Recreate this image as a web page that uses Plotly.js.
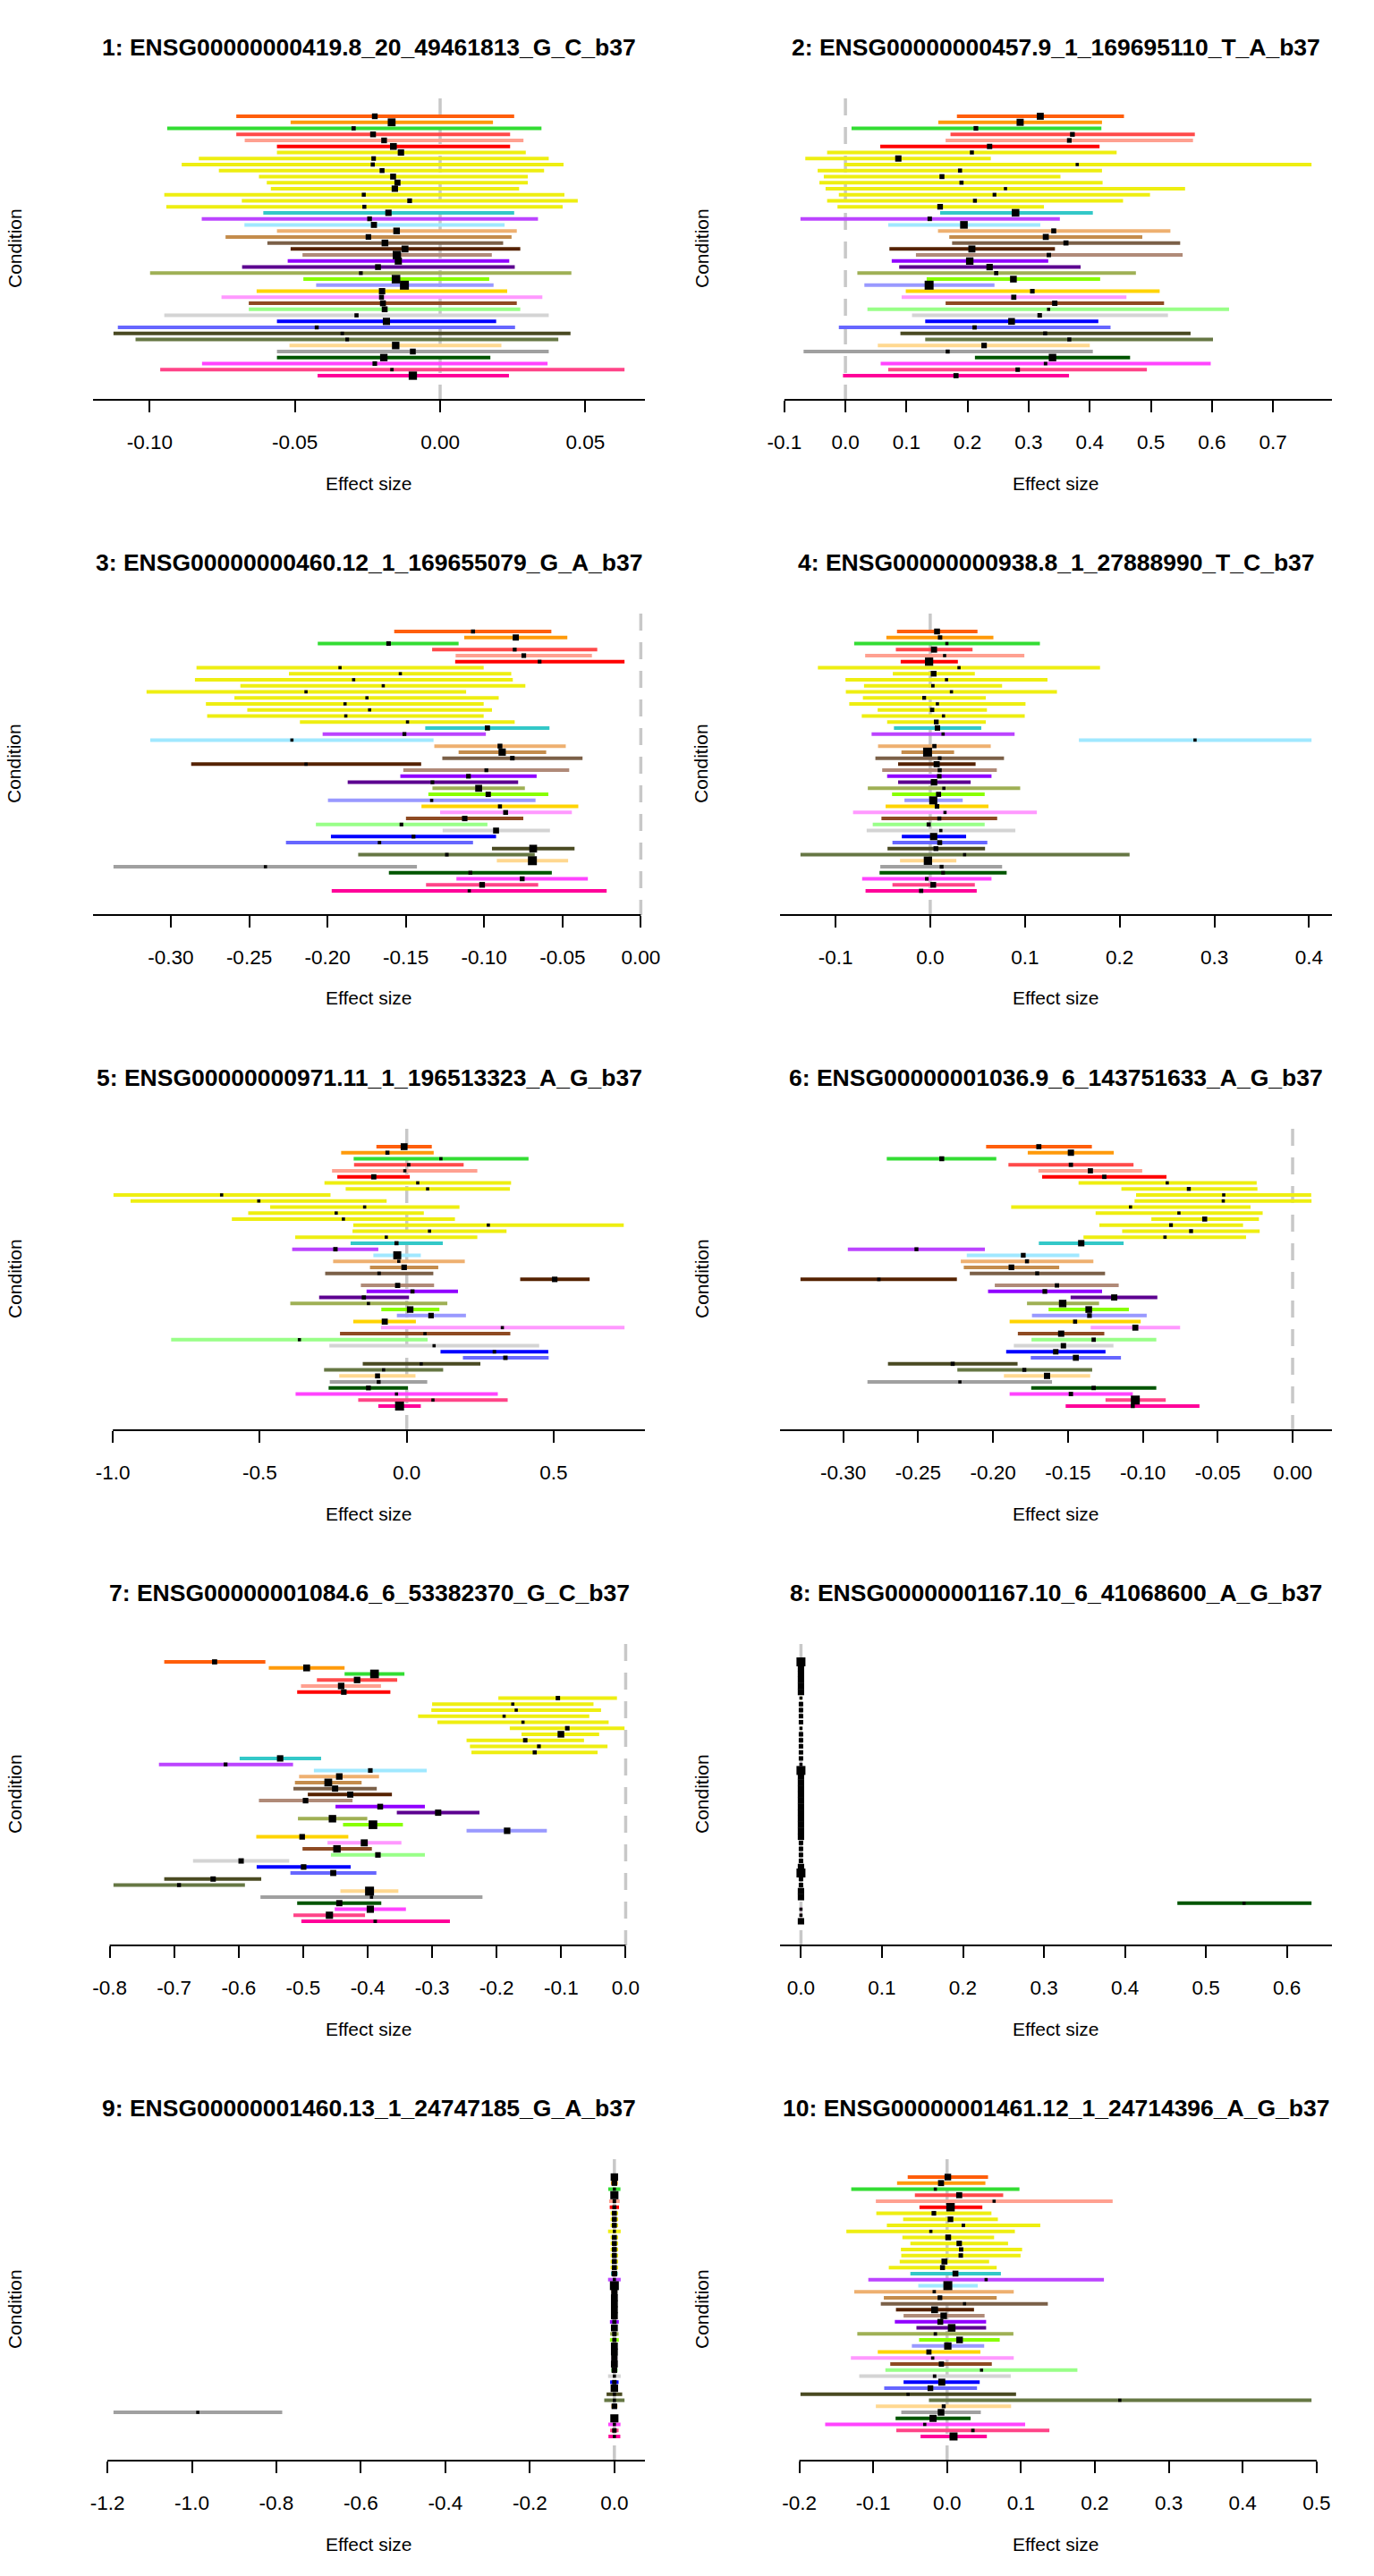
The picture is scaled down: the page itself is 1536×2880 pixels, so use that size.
<!DOCTYPE html>
<html><head><meta charset="utf-8">
<script src="https://cdn.plot.ly/plotly-3.0.1.min.js"></script>
<style>html,body{margin:0;padding:0;background:#fff}</style>
</head><body>
<div id="chart" style="width:1536px;height:2880px"></div>
<script>
// ---------------- DATA ----------------
const conditions = ["Adipose_Subcutaneous","Adipose_Visceral_Omentum","Adrenal_Gland","Artery_Aorta","Artery_Coronary","Artery_Tibial","Brain_Anterior_cingulate_cortex_BA24","Brain_Caudate_basal_ganglia","Brain_Cerebellar_Hemisphere","Brain_Cerebellum","Brain_Cortex","Brain_Frontal_Cortex_BA9","Brain_Hippocampus","Brain_Hypothalamus","Brain_Nucleus_accumbens_basal_ganglia","Brain_Putamen_basal_ganglia","Breast_Mammary_Tissue","Cells_EBV-transformed_lymphocytes","Cells_Transformed_fibroblasts","Colon_Sigmoid","Colon_Transverse","Esophagus_Gastroesophageal_Junction","Esophagus_Mucosa","Esophagus_Muscularis","Heart_Atrial_Appendage","Heart_Left_Ventricle","Liver","Lung","Muscle_Skeletal","Nerve_Tibial","Ovary","Pancreas","Pituitary","Prostate","Skin_Not_Sun_Exposed_Suprapubic","Skin_Sun_Exposed_Lower_leg","Small_Intestine_Terminal_Ileum","Spleen","Stomach","Testis","Thyroid","Uterus","Vagina","Whole_Blood"];

const panelTitles = ["1: ENSG00000000419.8_20_49461813_G_C_b37","2: ENSG00000000457.9_1_169695110_T_A_b37","3: ENSG00000000460.12_1_169655079_G_A_b37","4: ENSG00000000938.8_1_27888990_T_C_b37","5: ENSG00000000971.11_1_196513323_A_G_b37","6: ENSG00000001036.9_6_143751633_A_G_b37","7: ENSG00000001084.6_6_53382370_G_C_b37","8: ENSG00000001167.10_6_41068600_A_G_b37","9: ENSG00000001460.13_1_24747185_G_A_b37","10: ENSG00000001461.12_1_24714396_A_G_b37"];

const p1Lower = [-0.0702,-0.0515,-0.094,-0.0702,-0.0673,-0.0562,-0.0562,-0.0831,-0.089,-0.0762,-0.0624,-0.0597,-0.0583,-0.095,-0.0683,-0.0943,-0.0609,-0.0821,-0.0674,-0.0562,-0.0739,-0.0595,-0.0515,-0.0474,-0.0525,-0.0682,-0.0999,-0.0471,-0.0427,-0.0632,-0.0753,-0.0659,-0.0659,-0.095,-0.0562,-0.111,-0.1125,-0.1049,-0.0519,-0.0562,-0.0562,-0.082,-0.0964,-0.0422];
const p1Effect = [-0.0225,-0.0167,-0.0298,-0.0231,-0.0193,-0.0161,-0.0135,-0.0229,-0.0232,-0.020,-0.0162,-0.0147,-0.0156,-0.0263,-0.0105,-0.0261,-0.0178,-0.0243,-0.0228,-0.015,-0.0247,-0.019,-0.0121,-0.0149,-0.0144,-0.0214,-0.0273,-0.0152,-0.0123,-0.020,-0.0202,-0.0197,-0.0191,-0.0288,-0.0185,-0.0425,-0.0337,-0.032,-0.0153,-0.0094,-0.0194,-0.0225,-0.0166,-0.0094];
const p1Upper = [0.0255,0.0182,0.0349,0.0241,0.0287,0.0241,0.0295,0.0374,0.0425,0.0358,0.0302,0.0302,0.0272,0.0428,0.0474,0.0422,0.0255,0.0337,0.0222,0.0264,0.0246,0.0217,0.0276,0.0178,0.0238,0.0257,0.0452,0.0169,0.0184,0.0231,0.0352,0.0264,0.0276,0.0374,0.0193,0.0258,0.0449,0.0407,0.0211,0.0374,0.0173,0.037,0.0635,0.0237];

const p2Lower = [0.1825,0.152,0.010,0.172,0.164,0.057,-0.030,-0.0657,-0.002,-0.0455,-0.0354,-0.0426,-0.0325,-0.0108,-0.030,-0.013,0.155,-0.0736,0.070,0.1515,0.170,0.1746,0.072,0.1154,0.0758,0.088,0.0195,0.133,0.031,0.0988,0.092,0.164,0.036,0.109,0.1306,-0.0108,0.090,0.1306,0.053,-0.0685,0.212,0.0577,0.070,-0.004];
const p2Effect = [0.319,0.286,0.2136,0.3716,0.3665,0.236,0.207,0.0866,0.3795,0.1876,0.158,0.190,0.262,0.244,0.212,0.155,0.2785,0.138,0.194,0.341,0.328,0.361,0.207,0.333,0.2035,0.236,0.2468,0.275,0.137,0.306,0.2756,0.3427,0.3326,0.318,0.272,0.2114,0.327,0.3665,0.227,0.1674,0.339,0.3276,0.282,0.181];
const p2Upper = [0.456,0.420,0.419,0.572,0.569,0.416,0.444,0.238,0.763,0.420,0.352,0.421,0.556,0.4986,0.4545,0.325,0.405,0.351,0.319,0.532,0.486,0.548,0.343,0.552,0.332,0.385,0.4755,0.417,0.244,0.5144,0.460,0.5216,0.628,0.528,0.414,0.434,0.565,0.6017,0.400,0.405,0.466,0.598,0.4935,0.366];

const p3Lower = [-0.1574,-0.1127,-0.2062,-0.1332,-0.1182,-0.1185,-0.2836,-0.2246,-0.2846,-0.2556,-0.3155,-0.2594,-0.2776,-0.2512,-0.2768,-0.2176,-0.1376,-0.2031,-0.3131,-0.1318,-0.1163,-0.1267,-0.287,-0.1516,-0.1535,-0.1871,-0.133,-0.1356,-0.1997,-0.14,-0.1281,-0.1499,-0.2074,-0.1265,-0.1978,-0.2265,-0.095,-0.1804,-0.0919,-0.3366,-0.1608,-0.1177,-0.1371,-0.1973];
const p3Effect = [-0.1071,-0.0798,-0.161,-0.0805,-0.0747,-0.0646,-0.192,-0.1535,-0.1833,-0.1644,-0.2137,-0.1748,-0.1888,-0.1731,-0.1883,-0.1489,-0.0979,-0.1509,-0.2227,-0.0899,-0.0885,-0.082,-0.2137,-0.0986,-0.11,-0.133,-0.1035,-0.0974,-0.1335,-0.0899,-0.0863,-0.1124,-0.1528,-0.0924,-0.1451,-0.1668,-0.0687,-0.1238,-0.0692,-0.2396,-0.1088,-0.0757,-0.1013,-0.1095];
const p3Upper = [-0.0571,-0.0469,-0.1163,-0.0278,-0.0312,-0.0104,-0.1003,-0.0827,-0.0817,-0.0737,-0.1115,-0.0907,-0.1003,-0.095,-0.1003,-0.0805,-0.0583,-0.0989,-0.1323,-0.0479,-0.0604,-0.0372,-0.1402,-0.0457,-0.0665,-0.0783,-0.074,-0.059,-0.0672,-0.0399,-0.044,-0.075,-0.0979,-0.058,-0.0924,-0.1071,-0.0423,-0.0677,-0.0464,-0.1429,-0.0568,-0.0338,-0.0655,-0.0218];

const p4Lower = [-0.0351,-0.0463,-0.0803,-0.0363,-0.0687,-0.0312,-0.1186,-0.0395,-0.0895,-0.0699,-0.0891,-0.0711,-0.0855,-0.0555,-0.0723,-0.0455,-0.0383,-0.0619,0.157,-0.0551,-0.0304,-0.0579,-0.0339,-0.0507,-0.0455,-0.0339,-0.0659,-0.0403,-0.0272,-0.0471,-0.0815,-0.0515,-0.0607,-0.0671,-0.03,-0.0399,-0.0451,-0.137,-0.0319,-0.0527,-0.0535,-0.0719,-0.0399,-0.0683];
const p4Effect = [0.0072,0.0104,0.0176,0.004,0.0152,-0.0012,0.0304,0.0036,0.0172,0.0028,0.0224,-0.0064,0.0076,0.002,0.014,0.0064,0.0076,0.0136,0.2796,0.0044,-0.0028,0.01,0.0068,0.01,0.0096,0.004,0.0144,0.0088,0.0032,0.0072,0.0156,0.0096,-0.0016,0.0112,0.0036,0.01,0.006,0.0363,-0.0024,0.012,0.0136,-0.0036,0.0032,-0.0096];
const p4Upper = [0.0499,0.0667,0.1158,0.0447,0.0994,0.0292,0.1793,0.0471,0.1238,0.0759,0.1338,0.0587,0.1006,0.0599,0.0998,0.0587,0.0539,0.0891,0.4026,0.0639,0.0252,0.0779,0.0479,0.0703,0.0647,0.0427,0.095,0.0575,0.0343,0.0615,0.1126,0.0707,0.0575,0.0899,0.0379,0.0603,0.0579,0.2105,0.0276,0.0759,0.0807,0.0647,0.0471,0.0491];

const p5Lower = [-0.1033,-0.2233,-0.1807,-0.1794,-0.2543,-0.2363,-0.2801,-0.2079,-0.998,-0.9398,-0.4648,-0.5396,-0.5951,-0.182,-0.1846,-0.3796,-0.1911,-0.3899,-0.1136,-0.2505,-0.1252,-0.2776,0.386,-0.1562,-0.1368,-0.2982,-0.3963,-0.0865,-0.0336,-0.182,-0.0878,-0.2272,-0.8017,-0.2634,0.1149,0.1911,-0.1498,-0.2814,-0.2298,-0.2621,-0.2659,-0.3783,-0.1652,-0.0968];
const p5Effect = [-0.009,-0.0658,0.1162,0.0065,-0.0065,-0.1123,0.0374,0.071,-0.63,-0.5035,-0.1433,-0.2401,-0.2156,0.2776,0.0775,-0.0697,-0.0349,-0.2427,-0.0323,-0.0271,-0.009,-0.0942,0.5035,-0.031,0.0194,-0.1459,-0.1304,0.0116,0.0826,-0.0749,0.3253,0.062,-0.3653,0.093,0.2982,0.3357,0.0491,-0.0788,-0.0994,-0.0955,-0.1304,-0.0349,0.0891,-0.0245];
const p5Upper = [0.0852,0.0917,0.4144,0.1936,0.2401,0.0103,0.355,0.3511,-0.2595,-0.0684,0.1794,0.0581,0.164,0.7384,0.3395,0.2401,0.1226,-0.0968,0.0478,0.1975,0.1072,0.0904,0.6223,0.093,0.1743,0.0077,0.1381,0.111,0.2014,0.031,0.741,0.3524,0.071,0.4506,0.4815,0.4828,0.2505,0.1239,0.0297,0.0697,0.0039,0.3098,0.3434,0.0478];

const p6Lower = [-0.2046,-0.1768,-0.2709,-0.1897,-0.1697,-0.1672,-0.1429,-0.1143,-0.1045,-0.1055,-0.1879,-0.1315,-0.0943,-0.129,-0.1138,-0.1396,-0.1694,-0.2969,-0.2175,-0.2215,-0.2195,-0.2155,-0.3285,-0.1988,-0.2033,-0.1482,-0.1773,-0.1629,-0.174,-0.1889,-0.1348,-0.1834,-0.1743,-0.1861,-0.1912,-0.1748,-0.2701,-0.2238,-0.1927,-0.2838,-0.1745,-0.1889,-0.1249,-0.1515];
const p6Effect = [-0.1694,-0.148,-0.2342,-0.148,-0.135,-0.1257,-0.0837,-0.0693,-0.046,-0.0463,-0.1082,-0.0759,-0.0587,-0.0812,-0.0678,-0.0852,-0.1411,-0.2511,-0.1798,-0.1773,-0.1877,-0.1705,-0.2762,-0.1573,-0.1654,-0.1191,-0.1535,-0.1361,-0.1356,-0.1452,-0.105,-0.1545,-0.1328,-0.153,-0.1581,-0.1447,-0.2269,-0.1791,-0.1639,-0.2221,-0.1328,-0.148,-0.105,-0.1067];
const p6Upper = [-0.134,-0.1194,-0.1978,-0.1062,-0.1004,-0.0842,-0.024,-0.0235,0.0124,0.0126,-0.0281,-0.02,-0.0225,-0.0331,-0.022,-0.0311,-0.1128,-0.2054,-0.1424,-0.133,-0.1558,-0.1252,-0.2241,-0.1161,-0.1272,-0.0903,-0.1292,-0.1093,-0.0974,-0.1014,-0.0751,-0.1257,-0.091,-0.1196,-0.1249,-0.1146,-0.1836,-0.1338,-0.1351,-0.1606,-0.091,-0.1067,-0.0847,-0.0622];

const p7Lower = [-0.7154,-0.5533,-0.4358,-0.4787,-0.5034,-0.5093,-0.1974,-0.3001,-0.3013,-0.3219,-0.2919,-0.1797,-0.1615,-0.2467,-0.2414,-0.2391,-0.5985,-0.7236,-0.4834,-0.5063,-0.5128,-0.5151,-0.4928,-0.5686,-0.4499,-0.3548,-0.5081,-0.4382,-0.2467,-0.5727,-0.4623,-0.501,-0.457,-0.6708,-0.5721,-0.5198,-0.7154,-0.7941,-0.4423,-0.5662,-0.5093,-0.4511,-0.5151,-0.5028];
const p7Effect = [-0.6373,-0.4946,-0.3894,-0.4164,-0.4411,-0.437,-0.1051,-0.175,-0.1697,-0.1885,-0.1592,-0.0905,-0.1004,-0.1557,-0.1345,-0.141,-0.5357,-0.6203,-0.3959,-0.444,-0.4611,-0.4505,-0.427,-0.4963,-0.3806,-0.2907,-0.4546,-0.3918,-0.1838,-0.5016,-0.4053,-0.4476,-0.3841,-0.5962,-0.4993,-0.4534,-0.6396,-0.6925,-0.3971,-0.3941,-0.444,-0.3959,-0.4593,-0.3883];
const p7Upper = [-0.5586,-0.4358,-0.343,-0.3542,-0.3794,-0.3648,-0.0135,-0.0499,-0.0382,-0.0564,-0.0264,-0.0018,-0.0411,-0.0646,-0.0282,-0.0435,-0.4722,-0.5157,-0.3084,-0.3824,-0.4094,-0.3859,-0.3624,-0.4235,-0.3113,-0.2267,-0.4006,-0.3454,-0.1222,-0.43,-0.3477,-0.3935,-0.3113,-0.5216,-0.4264,-0.3865,-0.565,-0.5903,-0.3524,-0.222,-0.3789,-0.3407,-0.4041,-0.2725];

const p8Lower = [-0.0002,-0.00028,-0.00028,-0.00028,-0.00028,-0.00028,-0.0006,-0.0004,-0.0004,-0.0004,-0.0004,-0.0006,-0.0004,-0.0004,-0.0004,-0.0004,-0.0004,-0.0006,-0.0002,-0.00028,-0.00028,-0.00028,-0.00028,-0.00028,-0.00028,-0.00028,-0.00028,-0.00028,-0.00028,-0.00028,-0.0004,-0.0004,-0.0004,-0.0004,-0.00028,-0.0002,-0.0004,-0.0004,-0.00028,-0.00028,0.4647,-0.0006,-0.0006,-0.00028];
const p8Effect = [0,0,0,0,0,0,0,0,0,0,0,0,0,0,0,0,0,0,0,0,0,0,0,0,0,0,0,0,0,0,0,0,0,0,0,0,0,0,0,0,0.547,0,0,0];
const p8Upper = [0.0002,0.00028,0.00028,0.00028,0.00028,0.00028,0.0006,0.0004,0.0004,0.0004,0.0004,0.0006,0.0004,0.0004,0.0004,0.0004,0.0004,0.0006,0.0002,0.00028,0.00028,0.00028,0.00028,0.00028,0.00028,0.00028,0.00028,0.00028,0.00028,0.00028,0.0004,0.0004,0.0004,0.0004,0.00028,0.0002,0.0004,0.0004,0.00028,0.00028,0.6303,0.0006,0.0006,0.00028];

const p9Lower = [-0.006,-0.008,-0.0144,-0.0055,-0.0125,-0.011,-0.009,-0.009,-0.009,-0.015,-0.009,-0.009,-0.009,-0.009,-0.009,-0.009,-0.008,-0.015,-0.005,-0.007,-0.0065,-0.0065,-0.0065,-0.0065,-0.0105,-0.0065,-0.010,-0.0105,-0.0065,-0.0065,-0.007,-0.0065,-0.008,-0.015,-0.010,-0.006,-0.0185,-0.024,-0.008,-1.1856,-0.0055,-0.0145,-0.010,-0.014];
const p9Effect = [0,0,0,0,0,0,0,0,0,0,0,0,0,0,0,0,0,0,0,0,0,0,0,0,0,0,0,0,0,0,0,0,0,0,0,0,0,0,0,-0.986,0,0,0,0];
const p9Upper = [0.006,0.008,0.0144,0.0055,0.0125,0.011,0.009,0.009,0.009,0.015,0.009,0.009,0.009,0.009,0.009,0.009,0.008,0.015,0.005,0.007,0.0065,0.0065,0.0065,0.0065,0.0105,0.0065,0.010,0.0105,0.0065,0.0065,0.007,0.0065,0.008,0.015,0.010,0.006,0.0185,0.024,0.008,-0.7862,0.0055,0.0145,0.010,0.014];

const p10Lower = [-0.0533,-0.0677,-0.1297,-0.0436,-0.0964,-0.0374,-0.0958,-0.0595,-0.0815,-0.1363,-0.0605,-0.0497,-0.0625,-0.062,-0.0641,-0.0789,-0.0497,-0.1066,-0.039,-0.1256,-0.0856,-0.0897,-0.0692,-0.0589,-0.0707,-0.0415,-0.1215,-0.0379,-0.0477,-0.0938,-0.1302,-0.0769,-0.0835,-0.1189,-0.0589,-0.0851,-0.1984,-0.0246,-0.0964,-0.062,-0.0697,-0.165,-0.0687,-0.0359];
const p10Effect = [0.001,-0.0082,-0.0159,0.0164,0.0636,0.0046,-0.0179,0.0046,0.022,-0.022,0.0015,0.0164,0.019,0.0185,-0.0036,-0.0062,0.0113,0.0528,0.001,-0.0174,-0.0097,0.0236,-0.0169,-0.0046,-0.0092,0.0062,-0.0159,0.0169,0.001,-0.0246,-0.0195,-0.0077,0.0466,-0.0169,-0.0072,-0.0226,-0.0528,0.2337,-0.0046,-0.0082,-0.019,-0.0302,0.0349,0.0087];
const p10Upper = [0.0554,0.0518,0.0979,0.0759,0.224,0.0477,0.06,0.0687,0.1261,0.0917,0.0636,0.0825,0.1015,0.0994,0.0569,0.0671,0.0728,0.2122,0.0415,0.0902,0.0671,0.1363,0.0364,0.0507,0.0528,0.0528,0.0897,0.0712,0.0502,0.0451,0.0902,0.0605,0.1763,0.0861,0.0441,0.0405,0.0933,0.4931,0.0866,0.0456,0.0318,0.1056,0.1384,0.0538];

const p1Ticks = [-0.10,-0.05,0,0.05];            const p1TickText = ["-0.10","-0.05","0.00","0.05"];
const p2Ticks = [-0.1,0,0.1,0.2,0.3,0.4,0.5,0.6,0.7]; const p2TickText = ["-0.1","0.0","0.1","0.2","0.3","0.4","0.5","0.6","0.7"];
const p3Ticks = [-0.30,-0.25,-0.20,-0.15,-0.10,-0.05,0]; const p3TickText = ["-0.30","-0.25","-0.20","-0.15","-0.10","-0.05","0.00"];
const p4Ticks = [-0.1,0,0.1,0.2,0.3,0.4];        const p4TickText = ["-0.1","0.0","0.1","0.2","0.3","0.4"];
const p5Ticks = [-1.0,-0.5,0,0.5];               const p5TickText = ["-1.0","-0.5","0.0","0.5"];
const p6Ticks = [-0.30,-0.25,-0.20,-0.15,-0.10,-0.05,0]; const p6TickText = ["-0.30","-0.25","-0.20","-0.15","-0.10","-0.05","0.00"];
const p7Ticks = [-0.8,-0.7,-0.6,-0.5,-0.4,-0.3,-0.2,-0.1,0]; const p7TickText = ["-0.8","-0.7","-0.6","-0.5","-0.4","-0.3","-0.2","-0.1","0.0"];
const p8Ticks = [0,0.1,0.2,0.3,0.4,0.5,0.6];     const p8TickText = ["0.0","0.1","0.2","0.3","0.4","0.5","0.6"];
const p9Ticks = [-1.2,-1.0,-0.8,-0.6,-0.4,-0.2,0]; const p9TickText = ["-1.2","-1.0","-0.8","-0.6","-0.4","-0.2","0.0"];
const p10Ticks = [-0.2,-0.1,0,0.1,0.2,0.3,0.4,0.5]; const p10TickText = ["-0.2","-0.1","0.0","0.1","0.2","0.3","0.4","0.5"];

// ---------------- STYLE ----------------
const conditionColors = ["#FF5E0A","#FF9A0A","#33DD33","#FF4A4A","#FFA090","#FF0000","#EEEE11","#EEEE11","#EEEE11","#EEEE11","#EEEE11","#EEEE11","#EEEE11","#EEEE11","#EEEE11","#EEEE11","#33C8C8","#BB44FF","#A0E8FF","#EEB070","#C48C4C","#7B6048","#552200","#B08A78","#9000FF","#5C0090","#9FB055","#88FF00","#9999FF","#FFD400","#FF99FF","#8E4A22","#99FF88","#D4D4D4","#0000FF","#6666FF","#4A4A22","#667744","#FFD890","#A0A0A0","#005500","#FF44FF","#FF4488","#FF0099"];

const panels = [
  {lo:p1Lower, est:p1Effect, hi:p1Upper, ticks:p1Ticks, tt:p1TickText},
  {lo:p2Lower, est:p2Effect, hi:p2Upper, ticks:p2Ticks, tt:p2TickText},
  {lo:p3Lower, est:p3Effect, hi:p3Upper, ticks:p3Ticks, tt:p3TickText},
  {lo:p4Lower, est:p4Effect, hi:p4Upper, ticks:p4Ticks, tt:p4TickText},
  {lo:p5Lower, est:p5Effect, hi:p5Upper, ticks:p5Ticks, tt:p5TickText},
  {lo:p6Lower, est:p6Effect, hi:p6Upper, ticks:p6Ticks, tt:p6TickText},
  {lo:p7Lower, est:p7Effect, hi:p7Upper, ticks:p7Ticks, tt:p7TickText},
  {lo:p8Lower, est:p8Effect, hi:p8Upper, ticks:p8Ticks, tt:p8TickText},
  {lo:p9Lower, est:p9Effect, hi:p9Upper, ticks:p9Ticks, tt:p9TickText},
  {lo:p10Lower, est:p10Effect, hi:p10Upper, ticks:p10Ticks, tt:p10TickText}
];

const W = 1536, H = 2880, PW = 768, PH = 576;
const plotL = 104, plotR = 721, plotT = 110, plotB = 447;
const rowTop = 130, rowBot = 420;
const FONT = "Liberation Sans, Arial, Helvetica, sans-serif";
const nRows = conditions.length;
const unit = (rowBot - rowTop) / (nRows - 1);
const yRange = [nRows + (plotB - rowBot) / unit, 1 - (rowTop - plotT) / unit];

const traces = [], shapes = [], annotations = [], layout = {
  width: W, height: H, margin: {l:0, r:0, t:0, b:0},
  paper_bgcolor: "#fff", plot_bgcolor: "#fff", showlegend: false,
  font: {family: FONT, color: "#000"}
};
const rowIdx = conditions.map((c, i) => i + 1);

panels.forEach((p, k) => {
  const n = k + 1;
  const xs = n === 1 ? "x" : "x" + n, ys = n === 1 ? "y" : "y" + n;
  const c = k % 2, r = Math.floor(k / 2);
  const dmin = Math.min(...p.lo), dmax = Math.max(...p.hi);
  const span = dmax - dmin;
  const range = [dmin - 0.04 * span, dmax + 0.04 * span];

  layout["xaxis" + (n === 1 ? "" : n)] = {
    domain: [(c * PW + plotL) / W, (c * PW + plotR) / W],
    anchor: ys, range: range, showgrid: false, zeroline: false, showline: false,
    tickmode: "array", tickvals: p.ticks, ticktext: p.tt,
    ticks: "outside", ticklen: 13, tickwidth: 2, tickcolor: "#000",
    ticklabelstandoff: 14,
    tickfont: {family: FONT, size: 22.5, color: "#000"}, fixedrange: true
  };
  layout["yaxis" + (n === 1 ? "" : n)] = {
    domain: [1 - (r * PH + plotB) / H, 1 - (r * PH + plotT) / H],
    anchor: xs, range: yRange, showgrid: false, zeroline: false, showline: false,
    showticklabels: false, ticks: "", fixedrange: true
  };

  // zero reference (dashed)
  shapes.push({type: "line", xref: xs, yref: ys + " domain", x0: 0, x1: 0, y0: 1, y1: 0,
    line: {color: "#C8C8C8", width: 3.5, dash: "19px,13px"}, layer: "below"});

  // axis line from first to last "pretty" tick, clipped to the plot region
  const step = p.ticks[1] - p.ticks[0];
  const pLo = Math.floor(dmin / step + 1e-9) * step, pHi = Math.ceil(dmax / step - 1e-9) * step;
  shapes.push({type: "line", xref: xs, yref: ys + " domain",
    x0: Math.max(pLo, range[0]), x1: Math.min(pHi, range[1]), y0: 0, y1: 0,
    line: {color: "#000", width: 2}, layer: "above"});

  // interval bars
  conditions.forEach((name, i) => {
    traces.push({type: "scatter", mode: "lines", x: [p.lo[i], p.hi[i]], y: [i + 1, i + 1],
      xaxis: xs, yaxis: ys, name: name, hoverinfo: "skip",
      line: {color: conditionColors[i], width: 4}});
  });

  // point estimates, box size proportional to precision
  const widths = p.hi.map((h, i) => h - p.lo[i]);
  const wMin = Math.min(...widths);
  traces.push({type: "scatter", mode: "markers", x: p.est, y: rowIdx, xaxis: xs, yaxis: ys,
    text: conditions, hoverinfo: "text+x",
    marker: {symbol: "square", color: "#000", opacity: 1,
      size: widths.map(w => Math.max(3.6, Math.min(10, 10 * wMin / w))), line: {width: 0}}});

  annotations.push({text: panelTitles[k], xref: "paper", yref: "paper",
    x: (c * PW + (plotL + plotR) / 2) / W, y: 1 - (r * PH + 53) / H,
    xanchor: "center", yanchor: "middle", showarrow: false,
    font: {family: FONT, size: 26.5, color: "#000", weight: 700}});
  annotations.push({text: "Effect size", xref: "paper", yref: "paper",
    x: (c * PW + (plotL + plotR) / 2) / W, y: 1 - (r * PH + 540) / H,
    xanchor: "center", yanchor: "middle", showarrow: false,
    font: {family: FONT, size: 21, color: "#000"}});
  annotations.push({text: "Condition", xref: "paper", yref: "paper", textangle: -90,
    x: (c * PW + 16) / W, y: 1 - (r * PH + 278) / H,
    xanchor: "center", yanchor: "middle", showarrow: false,
    font: {family: FONT, size: 21, color: "#000"}});
});

layout.shapes = shapes;
layout.annotations = annotations;
Plotly.newPlot("chart", traces, layout, {displayModeBar: false, staticPlot: true});
</script>
</body></html>
